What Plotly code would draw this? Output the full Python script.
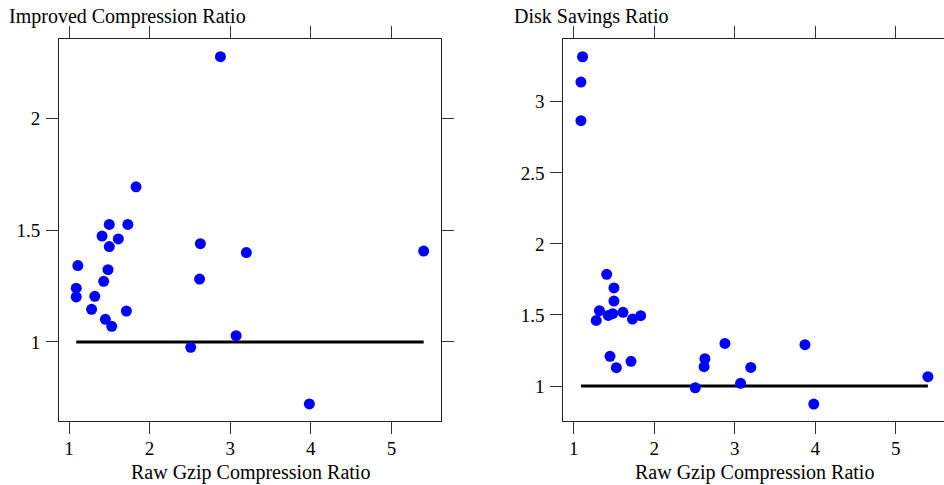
import plotly.graph_objects as go

# Data
gzip_ratio = [1.11, 1.09, 1.09, 1.41, 1.50, 1.50, 1.32, 1.28, 1.43, 1.484, 1.612, 1.73, 1.832,
              1.451, 1.53, 1.712, 2.879, 2.63, 2.62, 3.20, 3.873, 3.073, 2.51, 3.982, 5.40]
improved_ratio = [1.341, 1.240, 1.201, 1.473, 1.525, 1.426, 1.204, 1.146, 1.271, 1.323, 1.460,
                  1.525, 1.693, 1.101, 1.070, 1.138, 2.274, 1.439, 1.281, 1.399, None, 1.028,
                  0.976, 0.723, 1.406]
disk_savings = [3.317, 3.139, 2.867, 1.786, 1.690, 1.598, 1.530, 1.462, 1.497, 1.509, 1.519,
                1.471, 1.495, 1.209, 1.129, 1.174, 1.300, 1.192, 1.136, 1.131, 1.291, 1.019,
                0.988, 0.873, 1.066]
baseline = 1.0
x_ticks = [1, 2, 3, 4, 5]
y_ticks_left = [1, 1.5, 2]
y_ticks_right = [1, 1.5, 2, 2.5, 3]
titles = ["Improved Compression Ratio", "Disk Savings Ratio"]
x_title = "Raw Gzip Compression Ratio"

W, H = 944, 485
FONT = "Liberation Serif"

xs_sorted = sorted(gzip_ratio)
line_y = [baseline] * len(xs_sorted)

fig = go.Figure()
# Left panel
fig.add_trace(go.Scatter(x=xs_sorted, y=line_y, mode="lines",
                         line=dict(color="black", width=3), xaxis="x", yaxis="y",
                         hoverinfo="skip"))
fig.add_trace(go.Scatter(x=gzip_ratio, y=improved_ratio, mode="markers",
                         marker=dict(color="#0000FF", size=11), xaxis="x", yaxis="y"))
# Right panel
fig.add_trace(go.Scatter(x=xs_sorted, y=line_y, mode="lines",
                         line=dict(color="black", width=3), xaxis="x2", yaxis="y2",
                         hoverinfo="skip"))
fig.add_trace(go.Scatter(x=gzip_ratio, y=disk_savings, mode="markers",
                         marker=dict(color="#0000FF", size=11), xaxis="x2", yaxis="y2"))

def px_x(p):
    return p / W

def px_y(p):
    return (H - p) / H

ydom = [px_y(421), px_y(39)]
tickfont = dict(family=FONT, size=19, color="black")
axis_common = dict(showline=True, linecolor="#222222", linewidth=1, ticks="outside",
                   ticklen=12, tickcolor="#333333", tickwidth=1, showgrid=False,
                   zeroline=False, tickfont=tickfont)

fig.update_layout(
    width=W, height=H, autosize=False,
    margin=dict(l=0, r=0, t=0, b=0),
    paper_bgcolor="white", plot_bgcolor="white",
    showlegend=False, hovermode=False,
    xaxis=dict(domain=[px_x(59), px_x(441)], range=[0.876, 5.615], tickvals=x_ticks,
               mirror="ticks", anchor="y", ticklabelstandoff=-2, **axis_common),
    yaxis=dict(domain=ydom, range=[0.647, 2.353], tickvals=y_ticks_left,
               mirror="ticks", anchor="x", ticklabelstandoff=2, **axis_common),
    xaxis2=dict(domain=[px_x(563.3), 1.0], range=[0.871, 5.600], tickvals=x_ticks,
                mirror="ticks", anchor="y2", ticklabelstandoff=-2, **axis_common),
    yaxis2=dict(domain=ydom, range=[0.754, 3.442], tickvals=y_ticks_right,
                mirror=False, anchor="x2", ticklabelstandoff=2, **axis_common),
)

titlefont = dict(family=FONT, size=20, color="black")
fig.add_annotation(text=titles[0], xref="paper", yref="paper", x=px_x(7), y=px_y(17),
                   xanchor="left", yanchor="middle", showarrow=False, font=titlefont)
fig.add_annotation(text=titles[1], xref="paper", yref="paper", x=px_x(512), y=px_y(17),
                   xanchor="left", yanchor="middle", showarrow=False, font=titlefont)
fig.add_annotation(text=x_title, xref="paper", yref="paper", x=px_x(250), y=px_y(472),
                   xanchor="center", yanchor="middle", showarrow=False, font=titlefont)
fig.add_annotation(text=x_title, xref="paper", yref="paper", x=px_x(754), y=px_y(472),
                   xanchor="center", yanchor="middle", showarrow=False, font=titlefont)

fig.write_html("out.html", config={"displayModeBar": False},
               post_script="document.body.style.margin='0';document.body.style.overflow='hidden';")
